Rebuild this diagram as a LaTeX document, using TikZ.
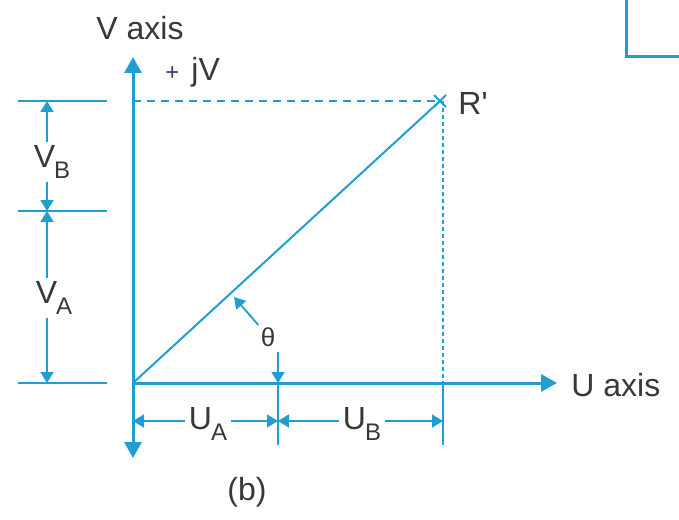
\documentclass[tikz,border=0pt]{standalone}
\usepackage{fontspec}
\setmainfont{Liberation Sans}
\usetikzlibrary{arrows.meta,calc}
\definecolor{axisblue}{RGB}{32,158,208}
\definecolor{plusnavy}{RGB}{70,55,125}
\newcommand{\lblsub}[2]{#1\kern-0.5pt\raisebox{-0.6ex}{\fontsize{12}{12}\selectfont #2}}

\begin{document}
\begin{tikzpicture}[
        x=0.5pt,
        y=-0.5pt,
        axis/.style={draw=axisblue, line width=1.5pt, -{Triangle[length=8pt,width=8.5pt]}},
        guide/.style={draw=axisblue, line width=0.9pt},
        dim/.style={draw=axisblue, line width=0.9pt, {Triangle[length=5.5pt,width=6.5pt]}-{Triangle[length=5.5pt,width=6.5pt]}},
        lbl/.style={font=\fontsize{16}{19}\selectfont, text=black!78, inner sep=1pt},
        dimlbl/.style={lbl, fill=white, inner sep=2pt}
    ]
    \useasboundingbox (0,0) rectangle (679,519);

    % points of the phasor
    \coordinate (O) at (133,383);
    \coordinate (R) at (440,101);
    \coordinate (Vtop) at (133,57);
    \coordinate (Vbot) at (133,458);
    \coordinate (Uend) at (557,383);
    \coordinate (UA) at (278,383);
    \coordinate (UB) at (443,383);

    % axes
    \draw[axis] (O) -- (Vtop);
    \draw[axis] (O) -- (Vbot);
    \draw[axis] (O) -- (Uend);
    \node[lbl, anchor=south] (vaxis) at (140,42) {V axis};
    \node[lbl, anchor=west] (jv) at (163,72) {{\color{plusnavy}\fontsize{12}{12}\selectfont +}\kern6pt jV};
    \node[lbl, anchor=west] (uaxis) at (569,385) {U axis};

    % phasor and projections
    \draw[draw=axisblue, line width=1pt] (O) -- (R);
    \draw[guide] ($(R)+(-6,-6)$) -- ($(R)+(6,6)$);
    \draw[guide] ($(R)+(-6,6)$) -- ($(R)+(6,-6)$);
    \draw[guide, dash pattern=on 4pt off 3pt] (Vtop |- R) -- (R);
    \draw[guide, dash pattern=on 2pt off 1.5pt] (UB |- R) -- (UB);
    \node[lbl, anchor=west] (rlabel) at (456,103) {R\textquotesingle};

    % V components
    \coordinate (T1) at (18,101);
    \coordinate (T2) at (18,211);
    \coordinate (T3) at (18,383);
    \foreach \t in {T1,T2,T3}
        \draw[guide] (\t) -- ++(89,0);
    \draw[dim] (47,101) -- (47,211);
    \draw[dim] (47,211) -- (47,383);
    \node[dimlbl] (vb) at (52,162) {\lblsub{V}{B}};
    \node[dimlbl] (va) at (54,298) {\lblsub{V}{A}};

    % U components
    \draw[guide] (UA) -- ++(0,62);
    \draw[guide] (UB) -- ++(0,62);
    \draw[dim] (O |- 0,421) -- (UA |- 0,421);
    \draw[dim] (UA |- 0,421) -- (UB |- 0,421);
    \node[dimlbl] (ua) at (208,424) {\lblsub{U}{A}};
    \node[dimlbl] (ub) at (362,424) {\lblsub{U}{B}};

    % angle
    \node[lbl, font=\fontsize{13}{15}\selectfont] (theta) at (268,337) {θ};
    \draw[guide, -{Triangle[length=5.5pt,width=6.5pt]}] (theta.north west) -- (234,297);
    \draw[guide, -{Triangle[length=5.5pt,width=6.5pt]}] (278,352) -- (UA);

    \node[lbl] (caption) at (247,492) {(b)};

    % edge of next panel
    \draw[draw=axisblue, line width=1.5pt] (626,0) -- (626,57) -- (690,57);
\end{tikzpicture}
\end{document}
